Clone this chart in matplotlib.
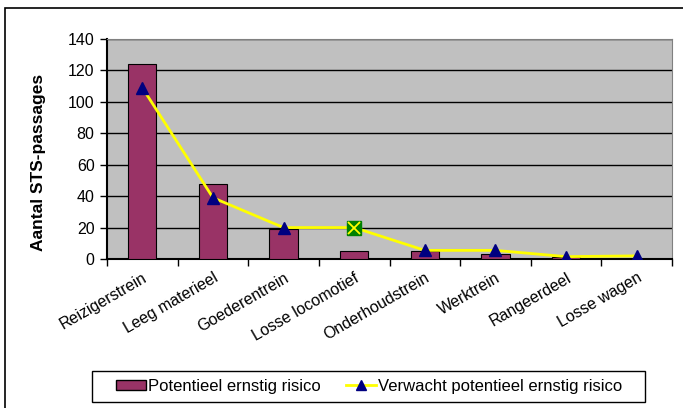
import numpy as np
import matplotlib.pyplot as plt
import matplotlib.transforms as mtransforms
from matplotlib.patches import Rectangle
from matplotlib.lines import Line2D

plt.rcParams['font.family'] = ['Liberation Sans', 'DejaVu Sans']

# categories and values
categories = ['Reizigerstrein', 'Leeg materieel', 'Goederentrein', 'Losse locomotief',
              'Onderhoudstrein', 'Werktrein', 'Rangeerdeel', 'Losse wagen']
potentieel = [124, 48, 19, 5, 5, 3, 1, 0]
verwacht = [109, 39, 20, 20, 5.5, 5.5, 1.5, 2]
yticks = [0, 20, 40, 60, 80, 100, 120, 140]

W, H = 683, 408
fig = plt.figure(figsize=(W / 100, H / 100), dpi=100)

# outer chart border (cropped at right and bottom)
fig.patches.append(Rectangle((5 / W, -0.5), 2, 1.5 - 8 / H, transform=fig.transFigure,
                             fill=False, edgecolor='black', linewidth=1.2))

ax = fig.add_axes([107 / W, 1 - 259 / H, (672 - 107) / W, (259 - 39) / H])
ax.set_facecolor('#C0C0C0')

x = np.arange(len(categories))
ax.bar(x, potentieel, width=0.4, color='#993366', edgecolor='black', linewidth=0.8, zorder=3)

ax.plot(x, verwacht, color='#FFFF00', linewidth=2, zorder=4)
ax.plot(np.delete(x, 3), np.delete(verwacht, 3), linestyle='none', marker='^',
        markersize=8, color='#000080', zorder=5)
# odd marker on the fourth point
ax.plot(x[3], verwacht[3], linestyle='none', marker='s', markersize=10,
        color='#008000', zorder=5)
ax.plot(x[3], verwacht[3], linestyle='none', marker='x', markersize=8,
        markeredgewidth=1.3, color='#FFFF00', zorder=6)

ax.set_xlim(-0.5, len(categories) - 0.5)
ax.set_ylim(0, 140)
ax.set_yticks(yticks)
ax.yaxis.grid(True, color='black', linewidth=1)
ax.set_axisbelow(True)

ax.set_xticks(np.arange(len(categories) + 1) - 0.5, minor=False)
ax.set_xticklabels([])
ax.set_xticks(x, minor=True)
ax.set_xticklabels(categories, minor=True, rotation=30, ha='right',
                   rotation_mode='anchor', fontsize=11.5)
shift = mtransforms.ScaledTranslation(5 / 100, 0, fig.dpi_scale_trans)
for lbl in ax.get_xticklabels(minor=True):
    lbl.set_transform(lbl.get_transform() + shift)
ax.tick_params(axis='x', which='minor', length=0, pad=8)
ax.tick_params(axis='x', which='major', length=5, direction='out', width=1)
ax.tick_params(axis='y', length=5, direction='out', width=1, labelsize=11.5, pad=4)

for side in ['top', 'right']:
    ax.spines[side].set_color('#808080')
for side in ['left', 'bottom']:
    ax.spines[side].set_color('black')
    ax.spines[side].set_linewidth(1.5)

ax.set_ylabel('Aantal STS-passages', fontsize=12.5, fontweight='bold')
ax.yaxis.set_label_coords(-0.108, 0.44)

# legend frame drawn separately so the padding matches
fig.patches.append(Rectangle((92 / W, 1 - 402 / H), (645 - 92) / W, 31 / H,
                             transform=fig.transFigure, facecolor='white',
                             edgecolor='black', linewidth=1, zorder=1))
handles = [Rectangle((0, 0), 1, 1, facecolor='#993366', edgecolor='black'),
           Line2D([], [], color='#FFFF00', linewidth=2, marker='^',
                  markerfacecolor='#000080', markeredgecolor='#000080', markersize=7)]
leg = fig.legend(handles, ['Potentieel ernstig risico', 'Verwacht potentieel ernstig risico'],
                 loc='center', bbox_to_anchor=(369 / W, 1 - 386.5 / H), ncol=2,
                 frameon=False, fontsize=12, handlelength=1.8, handleheight=0.6,
                 handletextpad=0.15, columnspacing=1.5, borderpad=0)
leg.set_zorder(2)

fig.savefig('out.png', dpi=100)
